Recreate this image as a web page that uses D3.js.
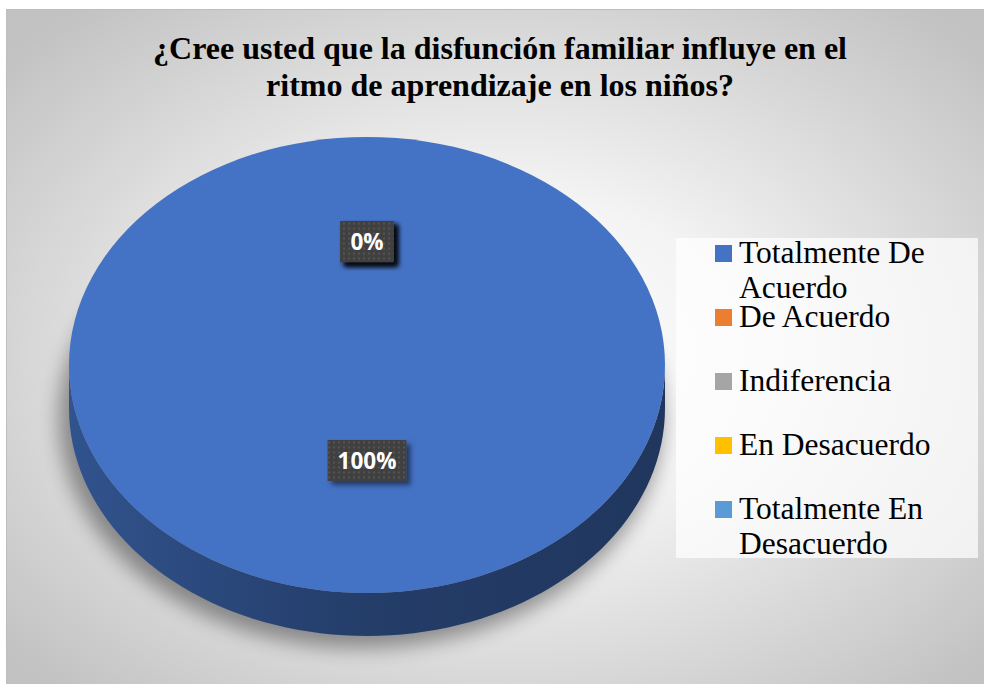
<!DOCTYPE html>
<html>
<head>
<meta charset="utf-8">
<script src="https://cdn.jsdelivr.net/npm/d3@7"></script>
<style>
  body { margin: 0; background: #fff; }
  svg { display: block; }
</style>
</head>
<body>
<div id="chart"></div>
<script>
var categories = ["Totalmente De Acuerdo", "De Acuerdo", "Indiferencia", "En Desacuerdo", "Totalmente En Desacuerdo"];
var values = [100, 0, 0, 0, 0];
var colors = ["#4472c4", "#ed7d31", "#a5a5a5", "#ffc000", "#5b9bd5"];
var titleLines = ["¿Cree usted que la disfunción familiar influye en el", "ritmo de aprendizaje en los niños?"];

var width = 984, height = 684;
var cx = 367, cy = 365, rx = 298, ry = 228, depth = 43;

var svg = d3.select("#chart").append("svg")
    .attr("width", width)
    .attr("height", height);

var defs = svg.append("defs");

// chart background
var bg = defs.append("radialGradient").attr("id", "bg")
    .attr("cx", "50%").attr("cy", "50%").attr("r", "66%");
bg.append("stop").attr("offset", "0").attr("stop-color", "#ffffff");
bg.append("stop").attr("offset", "0.35").attr("stop-color", "#f4f4f4");
bg.append("stop").attr("offset", "1").attr("stop-color", "#c2c2c2");

svg.append("rect")
    .attr("x", 6.5).attr("y", 9.5)
    .attr("width", 990).attr("height", 690)
    .attr("fill", "url(#bg)")
    .attr("stroke", "#bdbdbd");

// title
svg.append("text")
    .attr("text-anchor", "middle")
    .style("font-family", "'Liberation Serif', 'Times New Roman', serif")
    .style("font-weight", "bold")
    .style("font-size", "32px")
    .attr("fill", "#000")
    .selectAll("tspan")
    .data(titleLines)
    .enter().append("tspan")
    .attr("x", 500)
    .attr("y", function(d, i) { return 59 + i * 37; })
    .text(function(d) { return d; });

// pie
var pie = d3.pie().sort(null).value(function(d) { return d; });
var arcs = pie(values);
var total = d3.sum(values);
var fmt = d3.format(".0%");

function pt(a, dy) {
    return [cx + rx * Math.sin(a), cy - ry * Math.cos(a) + (dy || 0)];
}

// shadow
var blur = defs.append("filter").attr("id", "blur")
    .attr("x", "-20%").attr("y", "-20%").attr("width", "140%").attr("height", "140%");
blur.append("feGaussianBlur").attr("stdDeviation", 10);

var shadow = svg.append("g").attr("filter", "url(#blur)").attr("opacity", 0.38);
shadow.append("ellipse")
    .attr("cx", cx - 6).attr("cy", cy + depth + 10)
    .attr("rx", rx + 4).attr("ry", ry + 2)
    .attr("fill", "#000");

// side walls (front half only)
arcs.forEach(function(d, i) {
    if (d.endAngle - d.startAngle <= 0) return;
    var a0 = Math.max(d.startAngle, Math.PI / 2),
        a1 = Math.min(d.endAngle, Math.PI * 1.5);
    if (a1 <= a0) return;
    var n = 80, top = [], bot = [];
    for (var k = 0; k <= n; k++) {
        var a = a0 + (a1 - a0) * k / n;
        top.push(pt(a));
        bot.push(pt(a, depth));
    }
    var c = d3.color(colors[i]);
    var g = defs.append("linearGradient").attr("id", "side" + i)
        .attr("gradientUnits", "userSpaceOnUse")
        .attr("x1", cx - rx).attr("x2", cx + rx).attr("y1", 0).attr("y2", 0);
    g.append("stop").attr("offset", "0").attr("stop-color", c.darker(0.9));
    g.append("stop").attr("offset", "0.15").attr("stop-color", c.darker(1.15));
    g.append("stop").attr("offset", "0.5").attr("stop-color", c.darker(1.75));
    g.append("stop").attr("offset", "1").attr("stop-color", c.darker(2.1));
    svg.append("path")
        .attr("d", d3.line()(top.concat(bot.reverse())) + "Z")
        .attr("fill", "url(#side" + i + ")");
});

// top face
var arc = d3.arc().innerRadius(0).outerRadius(rx);
svg.append("g")
    .attr("transform", "translate(" + cx + "," + cy + ") scale(1," + (ry / rx) + ")")
    .selectAll("path")
    .data(arcs)
    .enter().append("path")
    .attr("d", arc)
    .attr("fill", function(d, i) { return colors[i]; });

// data labels
var pat = defs.append("pattern").attr("id", "dots")
    .attr("patternUnits", "userSpaceOnUse")
    .attr("width", 5).attr("height", 5);
pat.append("rect").attr("width", 5).attr("height", 5).attr("fill", "#404040");
pat.append("rect").attr("x", 1).attr("y", 1).attr("width", 2).attr("height", 2).attr("fill", "#535353");

var ds = defs.append("filter").attr("id", "lblshadow")
    .attr("x", "-30%").attr("y", "-30%").attr("width", "170%").attr("height", "170%");
ds.append("feDropShadow").attr("dx", 4).attr("dy", 4).attr("stdDeviation", 2.5)
    .attr("flood-color", "#000").attr("flood-opacity", 0.5);

var labelFrac = 0.48, labelLift = 14;
var labels = svg.append("g").selectAll("g")
    .data(arcs.slice().reverse())
    .enter().append("g")
    .attr("transform", function(d) {
        var a = (d.startAngle + d.endAngle) / 2;
        var x = cx + labelFrac * rx * Math.sin(a);
        var y = cy - labelFrac * ry * Math.cos(a) - labelLift;
        return "translate(" + x + "," + y + ")";
    });

labels.append("rect").attr("class", "box")
    .attr("fill", "url(#dots)")
    .attr("filter", "url(#lblshadow)");

labels.append("text")
    .attr("text-anchor", "middle")
    .attr("dy", "0.36em")
    .style("font-family", "'Open Sans', sans-serif")
    .style("font-weight", "bold")
    .style("font-size", "22.5px")
    .attr("fill", "#fff")
    .text(function(d) { return fmt(d.value / total); });

labels.each(function() {
    var g = d3.select(this);
    var w = g.select("text").node().getComputedTextLength() + 20;
    g.select("rect")
        .attr("x", -w / 2).attr("y", -20.5)
        .attr("width", w).attr("height", 41);
});

// legend
svg.append("rect")
    .attr("x", 676).attr("y", 238)
    .attr("width", 302).attr("height", 320)
    .attr("fill", "#fff").attr("opacity", 0.72);

var ly = d3.scalePoint().domain(categories).range([245, 501]);

var legend = svg.append("g").selectAll("g")
    .data(categories)
    .enter().append("g")
    .attr("transform", function(d) { return "translate(715," + ly(d) + ")"; });

legend.append("rect")
    .attr("width", 17).attr("height", 17)
    .attr("fill", function(d, i) { return colors[i]; });

legend.append("text")
    .style("font-family", "'Liberation Serif', 'Times New Roman', serif")
    .style("font-size", "31.5px")
    .attr("fill", "#000")
    .each(function(d) {
        var t = d3.select(this);
        var words = d.split(" "), line = [], lineNo = 0;
        var tspan = t.append("tspan").attr("x", 24).attr("y", 18);
        words.forEach(function(w) {
            line.push(w);
            tspan.text(line.join(" "));
            if (tspan.node().getComputedTextLength() > 236 && line.length > 1) {
                line.pop();
                tspan.text(line.join(" "));
                line = [w];
                lineNo++;
                tspan = t.append("tspan").attr("x", 24).attr("y", 18 + lineNo * 35).text(w);
            }
        });
    });
</script>
</body>
</html>
